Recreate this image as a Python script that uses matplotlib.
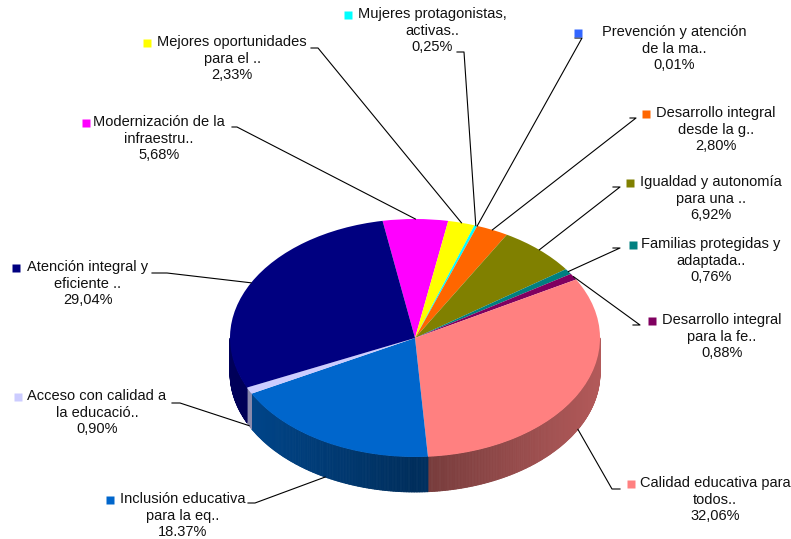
import numpy as np
import matplotlib
matplotlib.use("Agg")
from matplotlib import pyplot as plt
from matplotlib.collections import PolyCollection
from matplotlib.colors import to_rgb

plt.rcParams["font.family"] = ["Liberation Sans", "DejaVu Sans"]

# slice data, clockwise from the top
labels = [
    "Modernización de la\ninfraestru..",
    "Mejores oportunidades\npara el ..",
    "Mujeres protagonistas,\nactivas..",
    "Prevención y atención\nde la ma..",
    "Desarrollo integral\ndesde la g..",
    "Igualdad y autonomía\npara una ..",
    "Familias protegidas y\nadaptada..",
    "Desarrollo integral\npara la fe..",
    "Calidad educativa para\ntodos..",
    "Inclusión educativa\npara la eq..",
    "Acceso con calidad a\nla educació..",
    "Atención integral y\neficiente ..",
]
values = [5.68, 2.33, 0.25, 0.01, 2.80, 6.92, 0.76, 0.88, 32.06, 18.37, 0.90, 29.04]
pct_text = ["5,68%", "2,33%", "0,25%", "0,01%", "2,80%", "6,92%", "0,76%",
            "0,88%", "32,06%", "18.37%", "0,90%", "29,04%"]
colors = ["#FF00FF", "#FFFF00", "#00FFFF", "#3366FF", "#FF6600", "#808000",
          "#008080", "#800060", "#FF8080", "#0066CC", "#CCCCFF", "#000080"]

# label layout in pixels: text centre x, first line y, marker x, leader (x0, x1, y)
text_x = [159, 232, 432, 674, 716, 711, 711, 722, 715, 183, 97, 88]
text_y = [123, 43, 15, 33, 114, 183, 245, 321, 484, 500, 397, 268]
mark_x = [86, 147, 348, 578, 646, 630, 633, 652, 631, 110, 18, 16]
lead = [(232, 237, 127), (311, 318, 48), (457, 464, 52), (575, 582, 38),
        (630, 636, 118), (613, 620, 187), (613, 620, 248), (633, 640, 325),
        (620, 612, 489), (248, 255, 503), (172, 180, 403), (152, 167, 273)]

W, H = 791, 539
cx, cy, rx, ry, depth = 415, 338, 185, 119, 35

fig = plt.figure(figsize=(W / 100, H / 100), dpi=100)
ax = fig.add_axes([0, 0, 1, 1])
wedges, _ = ax.pie(values, colors=colors, startangle=100.1, counterclock=False,
                   radius=1, wedgeprops=dict(linewidth=0))
ax.set_aspect("auto")
ax.set_xlim(-cx / rx, (W - cx) / rx)
ax.set_ylim(-(H - cy) / ry, cy / ry)
ax.axis("off")
d = depth / ry

# side of the tilted pie
quads, qcols = [], []
for w, c in zip(wedges, colors):
    base = np.array(to_rgb(c))
    t = np.arange(w.theta1, w.theta2 + 0.5, 0.5)
    t[-1] = w.theta2
    for a, b in zip(t[:-1], t[1:]):
        m = np.deg2rad((a + b) / 2)
        if np.sin(m) >= 0:
            continue
        ra, rb = np.deg2rad(a), np.deg2rad(b)
        quads.append([(np.cos(ra), np.sin(ra)), (np.cos(rb), np.sin(rb)),
                      (np.cos(rb), np.sin(rb) - d), (np.cos(ra), np.sin(ra) - d)])
        f = 0.45 + 0.25 * abs(np.cos(m))
        qcols.append(tuple(base * f))
side = PolyCollection(quads, facecolors=qcols, edgecolors=qcols, linewidths=0.6, zorder=0)
ax.add_collection(side)

# labels
at = fig.add_axes([0, 0, 1, 1], facecolor="none")
at.set_xlim(0, W)
at.set_ylim(H, 0)
at.axis("off")

to_px = ax.transData + at.transData.inverted()
for i, w in enumerate(wedges):
    mid = np.deg2rad((w.theta1 + w.theta2) / 2)
    px, py = np.cos(mid), np.sin(mid)
    if py < 0:
        py -= d
    ex, ey = to_px.transform((px, py))
    x0, x1, ly = lead[i]
    at.plot([x0, x1, ex], [ly, ly, ey], color="black", lw=0.8)
    at.text(text_x[i], text_y[i] - 8, labels[i] + "\n" + pct_text[i], ha="center", va="top",
            fontsize=10.5, linespacing=1.24, color="#111111")
    at.plot(mark_x[i], text_y[i], marker="s", ms=6, color=colors[i], mec="none")

fig.savefig("out.png", dpi=100)
